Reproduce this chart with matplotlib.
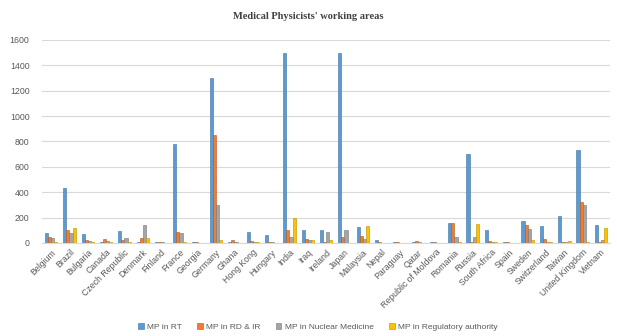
import matplotlib
matplotlib.use("Agg")
import matplotlib.pyplot as plt
import numpy as np

countries = ["Belgium", "Brazil", "Bulgaria", "Canada", "Czech Republic", "Denmark",
             "Finland", "France", "Georgia", "Germany", "Ghana", "Hong Kong", "Hungary",
             "India", "Iraq", "Ireland", "Japan", "Malaysia", "Nepal", "Paraguay", "Qatar",
             "Republic of Moldova", "Romania", "Russia", "South Africa", "Spain", "Sweden",
             "Switzerland", "Taiwan", "United Kingdom", "Vietnam"]

mp_rt = [75, 430, 70, 5, 95, 5, 5, 780, 10, 1300, 10, 90, 60, 1500, 100, 100, 1500, 125,
         20, 5, 10, 5, 160, 700, 100, 5, 170, 135, 210, 730, 140]
mp_rd_ir = [50, 100, 25, 30, 25, 35, 5, 85, 5, 850, 20, 15, 10, 100, 30, 5, 50, 55,
            5, 5, 15, 5, 160, 5, 15, 5, 140, 30, 10, 320, 5]
mp_nm = [40, 80, 15, 15, 40, 145, 5, 80, 3, 300, 10, 10, 10, 50, 20, 85, 100, 30,
         2, 2, 10, 3, 50, 50, 10, 3, 110, 10, 5, 300, 20]
mp_reg = [5, 120, 10, 5, 5, 35, 0, 10, 0, 20, 2, 10, 2, 200, 25, 20, 0, 135,
          0, 0, 0, 0, 5, 150, 5, 0, 20, 5, 15, 5, 120]

series = [("MP in RT", mp_rt, "#5B9BD5", "#41719C"),
          ("MP in RD & IR", mp_rd_ir, "#ED7D31", "#AE5A21"),
          ("MP in Nuclear Medicine", mp_nm, "#A5A5A5", "#787878"),
          ("MP in Regulatory authority", mp_reg, "#FFC000", "#BC8C00")]

fig = plt.figure(figsize=(6.17, 3.36), dpi=100)
ax = fig.add_axes([0.068, 0.277, 0.921, 0.604])

x = np.arange(len(countries))
w = 0.17
for i, (name, vals, col, ec) in enumerate(series):
    ax.bar(x + (i - 1.5) * w, vals, width=w, color=col, edgecolor=ec, linewidth=0.4,
           label=name, zorder=3)

ax.set_xlim(-0.5, len(countries) - 0.5)
ax.set_ylim(0, 1600)
ax.set_yticks(range(0, 1601, 200))
ax.grid(axis="y", color="#D9D9D9", linewidth=0.8, zorder=0)
for s in ["top", "right", "left"]:
    ax.spines[s].set_visible(False)
ax.spines["bottom"].set_color("#D9D9D9")
ax.tick_params(axis="both", length=0, labelsize=6.3, colors="#595959")
ax.tick_params(axis="y", pad=9)
ax.set_xticks(x)
ax.set_xticklabels(countries, rotation=45, ha="right", rotation_mode="anchor",
                   fontsize=6.3, family="Liberation Sans", color="#595959")
for lab in ax.get_yticklabels():
    lab.set_family("Liberation Sans")

fig.text(0.5, 0.95, "Medical Physicists' working areas", ha="center", va="center",
         family="Liberation Serif", fontweight="bold", fontsize=7.5, color="#404040")

fig.legend(loc="center", bbox_to_anchor=(0.515, 0.027), ncol=4, frameon=False,
           prop={"family": "Liberation Sans", "size": 6}, handlelength=0.7,
           handleheight=0.7, columnspacing=1.8, handletextpad=0.4, labelcolor="#595959")

fig.savefig("out.png", dpi=100)
